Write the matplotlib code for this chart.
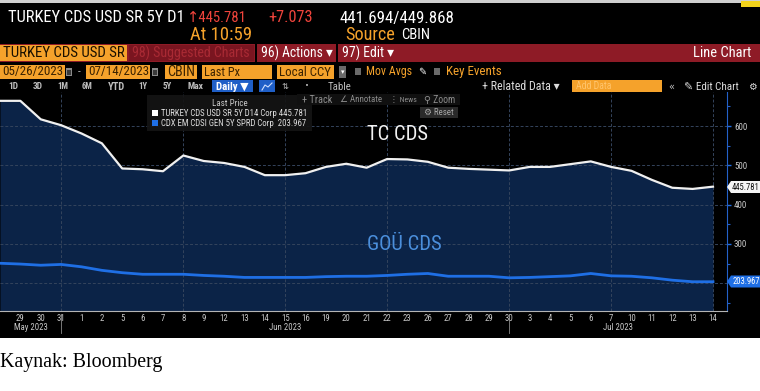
import matplotlib
matplotlib.use('Agg')
import matplotlib.pyplot as plt
from matplotlib import font_manager as fm
from matplotlib.patches import Rectangle, Polygon

# ---------------- data ----------------
day_labels = ['26', '29', '30', '31', '1', '2', '5', '6', '7', '8', '9', '12', '13', '14', '15',
              '16', '19', '20', '21', '22', '23', '26', '27', '28', '29', '30', '3', '4', '5', '6',
              '7', '10', '11', '12', '13', '14']
month_labels = ['May 2023', 'Jun 2023', 'Jul 2023']
turkey_cds = [664, 664, 617, 602, 581, 556, 492, 490, 485, 525, 511, 506, 496, 475, 475, 480,
              496, 504, 494, 516, 515, 509, 494, 491, 489, 487, 496, 496, 503, 510, 496, 486,
              463, 443, 440, 445.781]
em_cds = [251, 249, 246, 248, 242, 233, 227, 223, 223, 223, 220, 218, 215, 215, 215, 215,
          217, 218, 218, 220, 223, 225, 218, 218, 218, 214, 215, 217, 219, 225, 219, 218,
          214, 208, 204, 203.967]
y_ticks = [300, 400, 500, 600]
grid_y = [200, 300, 400, 500, 600]
minor_y = [150, 250, 350, 450, 550, 650]

# ---------------- fonts ----------------
names = {f.name for f in fm.fontManager.ttflist}
cond = next((n for n in ['Liberation Sans Narrow', 'Roboto Condensed', 'Open Sans Condensed']
             if n in names), None)
if cond:
    UIF = dict(family=[cond, 'DejaVu Sans'])
else:
    UIF = dict(family=['DejaVu Sans'], fontstretch='condensed')
SERIF = 'Liberation Serif' if 'Liberation Serif' in names else 'DejaVu Serif'

W, H = 760, 391
ORANGE = '#f5a22b'
RED_BAR = '#8e1b26'
NAVY = '#0b2347'
BLUE = '#1f6fe5'
GRID = '#34445c'
GREY = '#bdbdbd'

fig = plt.figure(figsize=(W / 100, H / 100), dpi=100, facecolor='white')
bg = fig.add_axes([0, 0, 1, 1], zorder=0)
bg.set_xlim(0, W); bg.set_ylim(H, 0); bg.axis('off')
ax = fig.add_axes([0, (H - 311) / H, 727 / W, (311 - 92) / H], zorder=1)
ov = fig.add_axes([0, 0, 1, 1], zorder=2)
ov.set_xlim(0, W); ov.set_ylim(H, 0); ov.axis('off')

fits = []


def T(a, x, y, s, w=None, color='white', size=8, ha='left', va='center', **kw):
    props = dict(UIF)
    props.update(kw)
    t = a.text(x, y, s, color=color, fontsize=size, ha=ha, va=va, **props)
    if w:
        fits.append((t, w))
    return t


def R(a, x0, y0, x1, y1, color, **kw):
    a.add_patch(Rectangle((x0, y0), x1 - x0, y1 - y0, facecolor=color, edgecolor='none', **kw))


# ---------------- terminal background ----------------
R(bg, 0, 0, W, 3, '#cfcfcf')
R(bg, 0, 3, W, 338, 'black')
R(bg, 741, 1, W, 7, '#f2d21b')

# header
T(bg, 8, 18, 'TURKEY CDS USD SR 5Y D1', w=177, size=11)
T(bg, 186, 18, '↑445.781', w=60, size=11, color='#f0443c')
T(bg, 268, 18, '+7.073', w=45, size=11, color='#f0443c')
T(bg, 340, 18, '441.694/449.868', w=116, size=11)
T(bg, 190, 35, 'At 10:59', w=62, size=11, color=ORANGE)
T(bg, 345, 35, 'Source', w=50, size=11, color=ORANGE)
T(bg, 401, 35, 'CBIN', w=29, size=11)

# red bar
R(bg, 0, 44, W, 62, RED_BAR)
R(bg, 0, 45, 127, 61, ORANGE)
T(bg, 3, 53, 'TURKEY CDS USD SR', w=122, size=10, color='#1a1000')
R(bg, 129, 45, 254, 61, '#7a1520')
T(bg, 132, 53, '98) Suggested Charts', w=118, size=9, color='#a92a34')
R(bg, 255, 44, 256.5, 62, 'black')
T(bg, 261, 53, '96) Actions ▾', w=72, size=9)
R(bg, 336, 44, 337.5, 62, 'black')
T(bg, 342, 53, '97) Edit ▾', w=52, size=9)
T(bg, 751, 53, 'Line Chart', w=58, size=9, ha='right')

# inputs row
for (x0, x1, s) in [(0, 65, '05/26/2023'), (86, 150, '07/14/2023'), (165, 197, 'CBIN'),
                    (202, 272, 'Last Px'), (277, 334, 'Local CCY')]:
    R(bg, x0, 65, x1, 79, ORANGE)
    tw = {'05/26/2023': 61, '07/14/2023': 61, 'CBIN': 28, 'Last Px': 36, 'Local CCY': 52}[s]
    T(bg, x0 + 2, 72, s, w=tw, size=9, color='#3a2200')
for x0 in (66, 152):
    R(bg, x0, 68, x0 + 6, 76, '#8a8a8a')
    R(bg, x0 + 1, 70, x0 + 5, 75, '#3a3a3a')
T(bg, 78, 72, '-', size=8, color=GREY)
R(bg, 339, 66, 346, 78, '#6a6a6a')
T(bg, 342.5, 72, '▾', size=5, ha='center', color='white', family=['DejaVu Sans'])
R(bg, 355, 68, 361, 75, '#6a6a6a')
T(bg, 366, 72, 'Mov Avgs', w=46, size=9, color=ORANGE)
T(bg, 418, 72, '✎', size=7, color='white', family=['DejaVu Sans'])
R(bg, 434, 68, 440, 75, '#6a6a6a')
T(bg, 446, 72, 'Key Events', w=56, size=9, color=ORANGE)

# toolbar row
for (x0, s, tw) in [(8, '1D', 10), (33, '3D', 10), (57, '1M', 11), (82, '6M', 11), (108, 'YTD', 17),
                    (138, '1Y', 9), (163, '5Y', 9), (187, 'Max', 16)]:
    T(bg, x0, 86.5, s, w=tw, size=7, color=GREY, fontweight='bold')
R(bg, 212, 80, 253, 93, '#1f5fc7')
T(bg, 216, 86.5, 'Daily ▼', w=33, size=7, color='white', fontweight='bold')
R(bg, 259, 80, 275, 93, '#1f5fc7')
bg.plot([262, 265, 268, 272], [90, 85, 87, 83], color='#cfe0ff', lw=0.8)
T(bg, 285, 86.5, '⇅', size=6, color=GREY, ha='center', family=['DejaVu Sans'])
T(bg, 307, 86.5, '•', size=5, color=GREY, ha='center', family=['DejaVu Sans'])
T(bg, 328, 86.5, 'Table', w=24, size=7, color=GREY)
T(bg, 482, 86.5, '+ Related Data ▾', w=78, size=7, color='#dcdcdc')
R(bg, 572, 80, 662, 92, ORANGE)
T(bg, 576, 86, 'Add Data', w=36, size=7, color='#ffc46b')
T(bg, 671, 86.5, '«', size=7, color=GREY, ha='center', family=['DejaVu Sans'])
T(bg, 684, 86.5, '✎ Edit Chart', w=55, size=7, color='#dcdcdc')
T(bg, 752, 86.5, '⚙', size=7, color='#dcdcdc', ha='center', family=['DejaVu Sans'])

# ---------------- main chart ----------------
xs = list(range(len(turkey_cds)))
ax.set_facecolor('black')
ax.set_xlim(0, 727 / (713 / 35))
ax.set_ylim(600 - (311 - 126) / 0.3933, 600 + (126 - 92) / 0.3933)
ax.fill_between(xs, turkey_cds, 0, color=NAVY, lw=0, zorder=1)
for g in grid_y:
    ax.axhline(g, color=GRID, lw=0.7, ls=(0, (3, 2)), zorder=2)
for i in [3, 9, 14, 19, 25, 30, 35]:
    ax.axvline(i, color=GRID, lw=0.7, ls=(0, (3, 2)), zorder=2)
ax.plot(xs, turkey_cds, color='#f0f0f0', lw=1.6, zorder=4, solid_joinstyle='round')
ax.plot(xs, em_cds, color=BLUE, lw=2.0, zorder=4, solid_joinstyle='round')

ax.set_xticks(xs[1:])
ax.set_xticklabels(day_labels[1:], color='#c8c8c8', fontsize=6.3, **UIF)
ax.tick_params(axis='x', length=0, pad=2)
ax.yaxis.tick_right()
ax.set_yticks(y_ticks)
ax.set_yticklabels([str(v) for v in y_ticks], color='#c8c8c8', fontsize=6.5, **UIF)
ax.set_yticks(minor_y, minor=True)
ax.tick_params(axis='y', which='major', colors=BLUE, labelcolor='#c8c8c8', length=3, width=1, pad=2)
ax.tick_params(axis='y', which='minor', colors='#2461c9', length=2, width=0.8)
for s in ('left', 'top'):
    ax.spines[s].set_visible(False)
ax.spines['right'].set_color('#2461c9')
ax.spines['bottom'].set_color('#b4b4b4')

# month labels and separators
for s, xp in zip(month_labels, [31, 285, 618]):
    T(ov, xp, 327, s, size=6.3, color='#c8c8c8', ha='center')
for xp in (61, 509):
    ov.plot([xp, xp], [314, 333], color='#8a8a8a', lw=0.6)

# legend box
R(ov, 147, 95, 312, 131, '#141414', alpha=0.92)
T(ov, 230, 103, 'Last Price', w=36, size=7, color='#c8c8c8', ha='center')
R(ov, 152, 110, 158, 116, 'white')
T(ov, 161, 113, 'TURKEY CDS USD SR 5Y D14 Corp 445.781', w=148, size=7, color='#dedede')
R(ov, 152, 120, 158, 126, BLUE)
T(ov, 161, 123, 'CDX EM CDSI GEN 5Y SPRD Corp  203.967', w=148, size=7, color='#dedede')

# track / zoom toolbar
R(ov, 297, 94, 460, 105, '#101010')
T(ov, 302, 100, '+ Track', w=30, size=6, color='#8c8c8c')
T(ov, 340, 100, '∠ Annotate', w=42, size=6, color='#8c8c8c')
T(ov, 390, 100, '⋮ News', w=27, size=6, color='#8c8c8c')
T(ov, 424, 100, '⚲ Zoom', w=31, size=6, color='#8c8c8c')
R(ov, 420, 107, 458, 118, '#2a2a2a')
T(ov, 424, 112.5, '⚙ Reset', w=30, size=6, color='#a8a8a8')

# annotations
T(ov, 367, 135, 'TC CDS', w=61, size=16, color='#f2f2f2')
T(ov, 367, 245, 'GOÜ CDS', w=75, size=16, color='#4b8fdc')

# value tags
ov.add_patch(Polygon([(727, 187), (731, 181), (760, 181), (760, 193), (731, 193)],
                     closed=True, facecolor='#f4f4f4', edgecolor='none'))
T(ov, 746, 187, '445.781', w=28, size=6.3, color='#111111', ha='center')
ov.add_patch(Polygon([(727, 281.5), (731, 275.5), (760, 275.5), (760, 287.5), (731, 287.5)],
                     closed=True, facecolor=BLUE, edgecolor='none'))
T(ov, 746, 281.5, '203.967', w=28, size=6.3, color='white', ha='center')

# source line
src = bg.text(0, 367, 'Kaynak: Bloomberg', fontsize=14, color='black', ha='left', va='baseline',
              family=SERIF)
fits.append((src, 163))

# fit text widths to the reference
fig.canvas.draw()
r = fig.canvas.get_renderer()
for t, w in fits:
    bb = t.get_window_extent(r)
    if bb.width > 0:
        t.set_fontsize(t.get_fontsize() * w / bb.width)

fig.savefig('out.png', dpi=100, facecolor='white')
